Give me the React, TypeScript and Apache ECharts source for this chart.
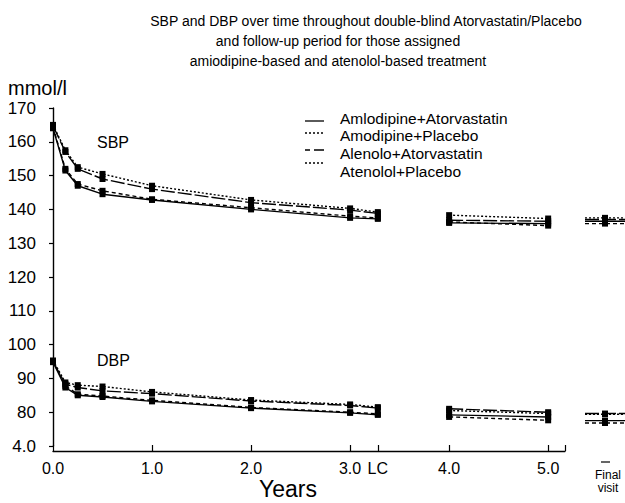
import React, { useEffect, useRef } from "react";
import * as echarts from "echarts";

// ---- Data ----
const seriesNames = [
  "Amlodipine+Atorvastatin",
  "Amodipine+Placebo",
  "Alenolo+Atorvastatin",
  "Atenolol+Placebo",
];
// x positions (years) of double-blind period; last one is LC (lipid close-out)
const xMain = [0, 0.125, 0.25, 0.5, 1, 2, 3, 3.28];
const xFollow = [4, 5];

// SBP, double-blind period
const sbpAmloAtor = [164, 151.5, 147, 144.5, 142.8, 140, 137.5, 137.2];
const sbpAmloPlac = [164.3, 152, 147.5, 145.5, 143, 140.5, 138, 137.5];
const sbpAtenAtor = [164.7, 157, 152, 149, 146, 142, 139.8, 138.8];
const sbpAtenPlac = [165, 157.5, 152.5, 150.5, 147, 142.8, 140.3, 139.2];
// SBP follow-up (4.0, 5.0) and final visit
const sbpFollowAmloAtor = [136.0, 135.8];
const sbpFollowAmloPlac = [136.3, 135.2];
const sbpFollowAtenAtor = [136.8, 136.5];
const sbpFollowAtenPlac = [138.3, 137.3];
const sbpFinal = [136.5, 135.8, 137.0, 137.5];

// DBP, double-blind period
const dbpAmloAtor = [94.8, 87.3, 85, 84.5, 83.2, 81.2, 79.8, 79.2];
const dbpAmloPlac = [95, 87.8, 85.3, 84.8, 83.5, 81.4, 80, 79.5];
const dbpAtenAtor = [95, 88.3, 87.3, 86.3, 85.5, 83.3, 82, 81.2];
const dbpAtenPlac = [95.3, 88.8, 88, 87.6, 86, 83.6, 82.3, 81.5];
// DBP follow-up and final visit
const dbpFollowAmloAtor = [79.2, 78.6];
const dbpFollowAmloPlac = [78.6, 77.6];
const dbpFollowAtenAtor = [81.0, 80.0];
const dbpFollowAtenPlac = [80.5, 79.6];
const dbpFinal = [77.5, 76.8, 79.6, 79.4];

// Axis ticks
const xTickValues = [0, 1, 2, 3, 3.28, 4, 5, 5.17];
const xLabelValues = [0, 1, 2, 3, 3.28, 4, 5];
const xTickLabels = ["0.0", "1.0", "2.0", "3.0", "LC", "4.0", "5.0"];
const finalVisitLabel = ["Final", "visit"];
const yTickValues = [70, 80, 90, 100, 110, 120, 130, 140, 150, 160, 170];
const yTickLabels = ["4.0", "80", "90", "100", "110", "120", "130", "140", "150", "160", "170"];

const titleLines = [
  "SBP and DBP over time throughout double-blind Atorvastatin/Placebo",
  "and follow-up period for those assigned",
  "amiodipine-based and atenolol-based treatment",
];

// ---- Styles ----
const dashes: (number[] | "solid")[] = ["solid", [4, 3], [14, 3], [2, 2]];
const legendDashes: (number[] | "solid")[] = ["solid", [2, 2], [5, 4, 12, 0], [2, 2]];

const sbpMain = [sbpAmloAtor, sbpAmloPlac, sbpAtenAtor, sbpAtenPlac];
const sbpFollow = [sbpFollowAmloAtor, sbpFollowAmloPlac, sbpFollowAtenAtor, sbpFollowAtenPlac];
const dbpMain = [dbpAmloAtor, dbpAmloPlac, dbpAtenAtor, dbpAtenPlac];
const dbpFollow = [dbpFollowAmloAtor, dbpFollowAmloPlac, dbpFollowAtenAtor, dbpFollowAtenPlac];

const FONT = "'Liberation Sans', Arial, sans-serif";

function buildSeries() {
  const out: any[] = [];
  const common = (i: number) => ({
    type: "line",
    symbol: "rect",
    symbolSize: 6,
    itemStyle: { color: "#000" },
    lineStyle: { color: "#000", width: 1.4, type: dashes[i] },
    z: 3 + i,
  });
  [
    [sbpMain, sbpFollow, sbpFinal],
    [dbpMain, dbpFollow, dbpFinal],
  ].forEach(([main, follow, fin]: any) => {
    for (let i = 0; i < 4; i++) {
      out.push({
        ...common(i),
        name: seriesNames[i],
        data: xMain.map((x, k) => [x, main[i][k]]),
      });
      out.push({
        ...common(i),
        name: seriesNames[i],
        data: xFollow.map((x, k) => [x, follow[i][k]]),
      });
      out.push({
        ...common(i),
        name: seriesNames[i],
        xAxisIndex: 1,
        yAxisIndex: 1,
        data: [
          { value: [0, fin[i]], symbol: "none" },
          { value: [1, fin[i]] },
          { value: [2, fin[i]], symbol: "none" },
        ],
      });
    }
  });
  return out;
}

function buildGraphic() {
  const g: any[] = [];
  const titleX = [366, 338, 338];
  titleLines.forEach((t, i) => {
    g.push({
      type: "text",
      x: titleX[i],
      y: 21 + i * 20,
      style: { text: t, font: `14px ${FONT}`, fill: "#000", align: "center", verticalAlign: "middle" },
    });
  });
  g.push({
    type: "text",
    x: 8,
    y: 88,
    style: { text: "mmol/l", font: `20px ${FONT}`, fill: "#000", align: "left", verticalAlign: "middle" },
  });
  g.push({
    type: "text",
    x: 97,
    y: 142,
    style: { text: "SBP", font: `16px ${FONT}`, fill: "#000", align: "left", verticalAlign: "middle" },
  });
  g.push({
    type: "text",
    x: 97,
    y: 360,
    style: { text: "DBP", font: `16px ${FONT}`, fill: "#000", align: "left", verticalAlign: "middle" },
  });
  g.push({
    type: "text",
    x: 288,
    y: 489,
    style: { text: "Years", font: `23px ${FONT}`, fill: "#000", align: "center", verticalAlign: "middle" },
  });
  // Final visit tick dash and label
  g.push({
    type: "line",
    shape: { x1: 601, y1: 462, x2: 610, y2: 462 },
    style: { stroke: "#000", lineWidth: 1.2 },
  });
  finalVisitLabel.forEach((t, i) => {
    g.push({
      type: "text",
      x: 608,
      y: 475 + i * 13,
      style: { text: t, font: `12px ${FONT}`, fill: "#000", align: "center", verticalAlign: "middle" },
    });
  });
  const textY = [118, 135, 153, 171];
  const lineY = [121, 133, 150, 163];
  seriesNames.forEach((n, i) => {
    const d = legendDashes[i];
    g.push({
      type: "line",
      shape: { x1: 305, y1: lineY[i], x2: 324, y2: lineY[i] },
      style: { stroke: "#000", lineWidth: 1.3, lineDash: d === "solid" ? null : d },
    });
    g.push({
      type: "text",
      x: 340,
      y: textY[i],
      style: { text: n, font: `15.5px ${FONT}`, fill: "#000", align: "left", verticalAlign: "middle" },
    });
  });
  return g;
}

export default function App() {
  const ref = useRef<HTMLDivElement>(null);
  useEffect(() => {
    if (!ref.current) return;
    const chart = echarts.init(ref.current, undefined, { renderer: "svg" });
    const option: any = {
      animation: false,
      backgroundColor: "#fff",
      grid: [
        { left: 53, top: 108, width: 512, height: 338, outerBoundsMode: "none" },
        { left: 585, top: 108, width: 40, height: 338, outerBoundsMode: "none" },
      ],
      xAxis: [
        {
          type: "value",
          gridIndex: 0,
          min: 0,
          max: 5.17,
          offset: 5,
          axisLine: { show: true, lineStyle: { color: "#000", width: 1.4 } },
          axisTick: {
            show: true,
            inside: true,
            length: 6,
            customValues: xTickValues,
            lineStyle: { color: "#000", width: 1.2 },
          },
          axisLabel: {
            customValues: xLabelValues,
            formatter: (v: number) => {
              const idx = xLabelValues.findIndex((x) => Math.abs(x - v) < 1e-6);
              return idx >= 0 ? xTickLabels[idx] : "";
            },
            color: "#000",
            fontSize: 16,
            fontFamily: FONT,
            margin: 9,
            hideOverlap: false,
          },
          splitLine: { show: false },
        },
        {
          type: "value",
          gridIndex: 1,
          min: 0,
          max: 2,
          show: false,
          splitLine: { show: false },
        },
      ],
      yAxis: [
        {
          type: "value",
          gridIndex: 0,
          min: 70,
          max: 170,
          interval: 10,
          offset: 10,
          axisLine: { show: true, lineStyle: { color: "#000", width: 1.4 } },
          axisTick: { show: true, length: 4, lineStyle: { color: "#000", width: 1.2 } },
          axisLabel: {
            formatter: (v: number) => {
              const idx = yTickValues.indexOf(v);
              return idx >= 0 ? yTickLabels[idx] : "";
            },
            color: "#000",
            fontSize: 17,
            fontFamily: FONT,
            margin: 7,
          },
          splitLine: { show: false },
        },
        {
          type: "value",
          gridIndex: 1,
          min: 70,
          max: 170,
          show: false,
          splitLine: { show: false },
        },
      ],
      series: buildSeries(),
      graphic: buildGraphic(),
    };
    chart.setOption(option);
    return () => chart.dispose();
  }, []);
  return (
    <div
      ref={ref}
      style={{ position: "absolute", left: 0, top: 0, width: 625, height: 503 }}
    />
  );
}
